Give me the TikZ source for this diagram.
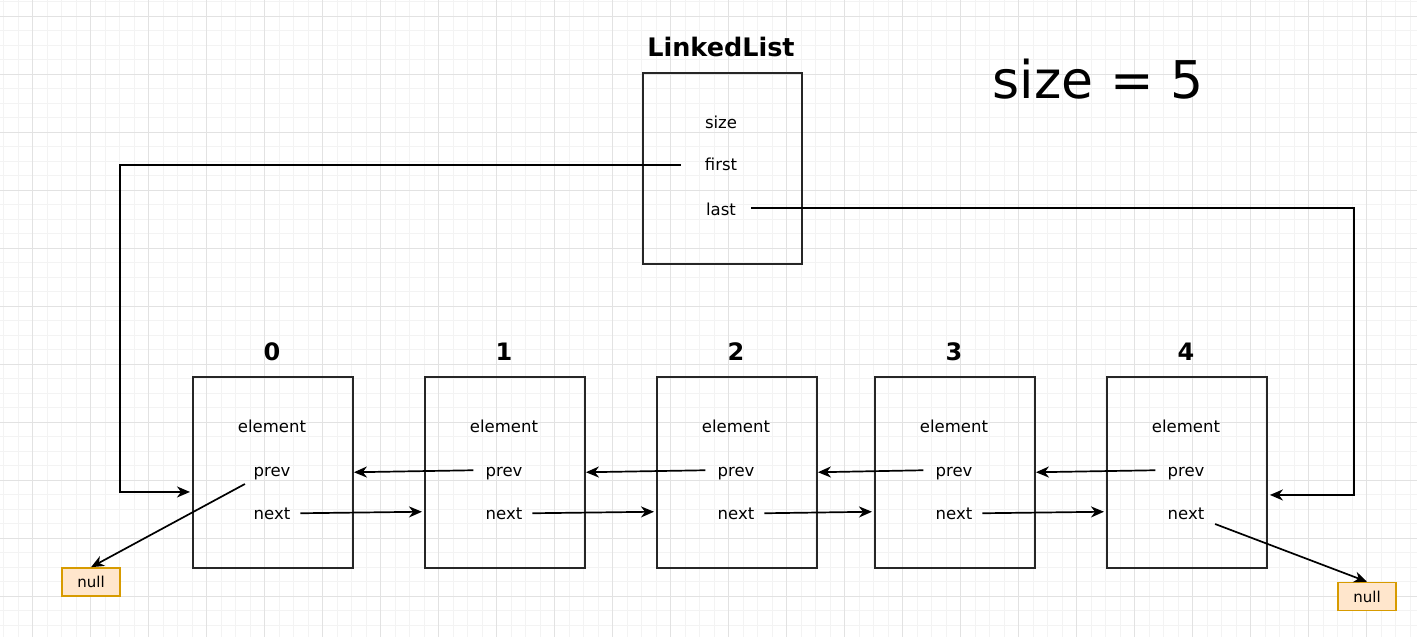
\documentclass[tikz,border=0pt]{standalone}
\usepackage{fontspec}
\setmainfont{DejaVu Sans}
\usetikzlibrary{arrows.meta,calc}
\definecolor{gridminor}{HTML}{F3F3F3}
\definecolor{gridmajor}{HTML}{E2E2E2}
\definecolor{nullfill}{HTML}{FFE6CC}
\definecolor{nulldraw}{HTML}{D79B00}
\begin{document}
\begin{tikzpicture}[x=1pt,y=-1pt,
 box/.style={draw=black!85,line width=1.9pt,minimum width=160pt,minimum height=191pt,inner sep=0pt,anchor=north west},
 fld/.style={font=\fontsize{16.5}{18}\selectfont,inner sep=1pt,text height=12pt,text depth=3.5pt,anchor=base},
 idx/.style={font=\bfseries\fontsize{24}{26}\selectfont,anchor=base},
 nullbox/.style={draw=nulldraw,fill=nullfill,line width=1.6pt,minimum width=58pt,minimum height=28pt,inner sep=0pt,font=\fontsize{15}{17}\selectfont},
 link/.style={line width=1.7pt,line join=miter,-{Stealth[length=13pt,width=11pt,inset=4pt]}}
]
\useasboundingbox (0,0) rectangle (1417,637);
\fill[white] (0,0) rectangle (1417,637);
\foreach \k in {0,...,97} {\draw[gridminor,line width=0.9pt] ({3.7+14.5*\k},0) -- ({3.7+14.5*\k},637);}
\foreach \k in {0,...,43} {\draw[gridminor,line width=0.9pt] (0,{1.8+14.5*\k}) -- (1417,{1.8+14.5*\k});}
\foreach \k in {0,...,24} {\draw[gridmajor,line width=1.1pt] ({32.7+58*\k},0) -- ({32.7+58*\k},637);}
\foreach \k in {0,...,10} {\draw[gridmajor,line width=1.1pt] (0,{16.3+58*\k}) -- (1417,{16.3+58*\k});}

% LinkedList
\node[font=\bfseries\fontsize{25.5}{28}\selectfont,anchor=base] (title) at (721,56) {LinkedList};
\node[box,minimum width=159pt] (ll) at (642,72) {};
\node[fld] (size) at (721,128) {size};
\node[fld] (first) at (721,170.7) {first};
\node[fld] (last) at (721,215) {last};
\node[font=\fontsize{52}{56}\selectfont,anchor=base] (sz) at (1098,98) {size = 5};

% list nodes
\foreach \n/\x in {0/192,1/424,2/656,3/874,4/1106} {
  \node[box] (b\n) at (\x,376) {};
  \node[idx] (i\n) at (\x+80,360) {\n};
  \node[fld] (e\n) at (\x+80,432) {element};
  \node[fld] (p\n) at (\x+80,476) {prev};
  \node[fld] (n\n) at (\x+80,519) {next};
}

\node[nullbox] (null0) at (91,582) {null};
\node[nullbox] (null4) at (1367,596.5) {null};

% prev links
\foreach \a/\b in {1/0,2/1,3/2,4/3} {
  \draw[link] ($(p\a.west)+(-11,-1.5)$) -- ($(p\a.west -| b\b.east)+(0,0.5)$);
}
% next links
\foreach \a/\b in {0/1,1/2,2/3,3/4} {
  \draw[link] ($(n\a.east)+(9,-1.5)$) -- ($(n\a.east -| b\b.west)+(-2,-3)$);
}
% first / last
\draw[link] ($(first.west)+(-23,-1.5)$) -| ($(b0.west)+(-72,19.5)$) -- ($(b0.west)+(-2,19.5)$);
\draw[link] ($(last.east)+(14,-2.5)$) -| ($(b4.east)+(86,22.5)$) -- ($(b4.east)+(2,22.5)$);
% null links
\draw[link] ($(p0.west)+(-7.5,12.25)$) -- (null0.north);
\draw[link] ($(n4.east)+(9.6,9.25)$) -- (null4.north);
\end{tikzpicture}
\end{document}
